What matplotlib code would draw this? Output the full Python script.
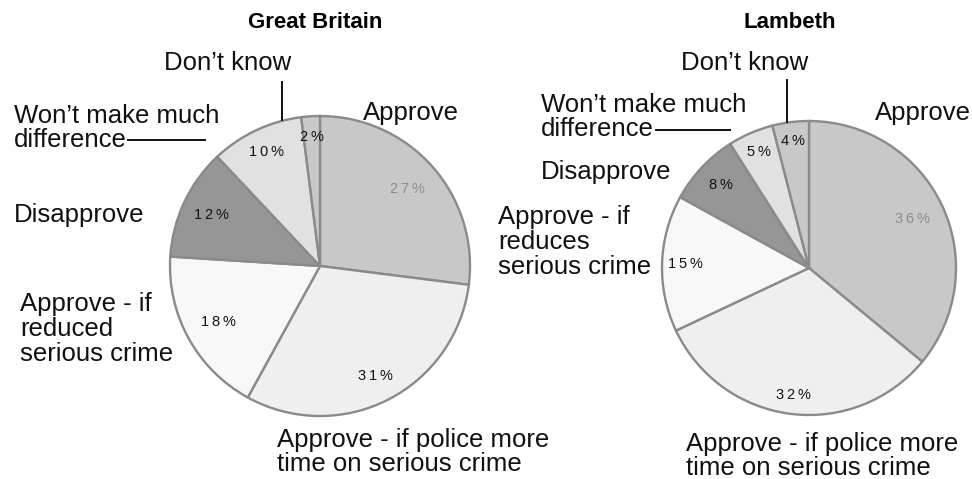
import matplotlib.pyplot as plt
from matplotlib.lines import Line2D
import numpy as np

plt.rcParams['font.family'] = ['Liberation Sans', 'DejaVu Sans']

# slices go clockwise from 12 o'clock
categories = ["Approve", "Approve - if police more time on serious crime",
              "Approve - if reduced serious crime", "Disapprove",
              "Won't make much difference", "Don't know"]
gb_values = [27, 31, 18, 12, 10, 2]
lambeth_values = [36, 32, 15, 8, 5, 4]

colors = ['#c8c8c8', '#efefef', '#f8f8f8', '#969696', '#e1e1e1', '#c8c8c8']
pct_colors = ['#8c8c8c', '#111111', '#111111', '#111111', '#111111', '#111111']

W, H = 972, 479
fig = plt.figure(figsize=(W / 100, H / 100), dpi=100)


def fx(x):
    return x / W


def fy(y):
    return 1 - y / H


def draw_pie(values, cx, cy, r, pct_dist):
    ax = fig.add_axes([fx(cx - r), fy(cy + r), 2 * r / W, 2 * r / H])
    wedges, _ = ax.pie(values, colors=colors, startangle=90, counterclock=False,
                       radius=1, wedgeprops=dict(edgecolor='#8a8a8a', linewidth=1.7))
    for w, v, d, c in zip(wedges, values, pct_dist, pct_colors):
        ang = np.deg2rad((w.theta1 + w.theta2) / 2)
        ax.text(d * np.cos(ang), d * np.sin(ang), "\u2009".join(f"{v}%"),
                ha='center', va='center', fontsize=10.5, color=c)
    ax.set_xlim(-1, 1)
    ax.set_ylim(-1, 1)
    ax.set_aspect('equal')
    ax.axis('off')
    return ax


def label(x, y, s, **kw):
    kw.setdefault('fontsize', 18.5)
    kw.setdefault('va', 'center')
    kw.setdefault('ha', 'left')
    fig.text(fx(x), fy(y), s, linespacing=1.03, color='#111111', **kw)


def leader(x0, y0, x1, y1):
    fig.add_artist(Line2D([fx(x0), fx(x1)], [fy(y0), fy(y1)],
                          color='#111111', linewidth=1.4))


# Great Britain
draw_pie(gb_values, 320, 266, 150, [0.78, 0.82, 0.77, 0.8, 0.84, 0.86])
fig.text(fx(315), fy(22), "Great Britain", ha='center', va='center',
         fontsize=16, fontweight='bold')
label(228, 63, "Don\u2019t know", ha='center')
leader(282, 82, 282, 120)
label(14, 128, "Won\u2019t make much\ndifference")
leader(128, 140, 205, 140)
label(363, 113, "Approve")
label(14, 215, "Disapprove")
label(20, 329, "Approve - if\nreduced\nserious crime")
label(277, 452, "Approve - if police more\ntime on serious crime")

# Lambeth
draw_pie(lambeth_values, 809, 268, 147, [0.78, 0.87, 0.84, 0.82, 0.86, 0.87])
fig.text(fx(790), fy(22), "Lambeth", ha='center', va='center',
         fontsize=16, fontweight='bold')
label(745, 63, "Don\u2019t know", ha='center')
leader(787, 80, 787, 122)
label(541, 117, "Won\u2019t make much\ndifference")
leader(656, 130, 730, 130)
label(875, 113, "Approve")
label(541, 172, "Disapprove")
label(498, 242, "Approve - if\nreduces\nserious crime")
label(686, 456, "Approve - if police more\ntime on serious crime")

fig.savefig("out.png", dpi=100, facecolor='white')
